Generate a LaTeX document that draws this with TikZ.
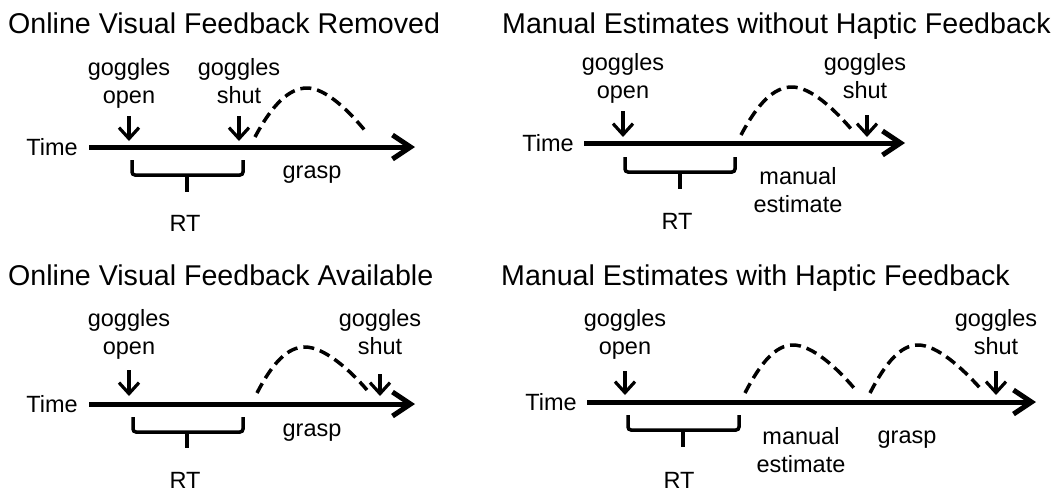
\documentclass[tikz,border=0pt]{standalone}
\usepackage{fontspec}
\setmainfont{Liberation Sans}
\usetikzlibrary{arrows.meta}
\tikzset{>=latex}
\tikzset{
  paneltitle/.style={anchor=base west,inner sep=0pt,font=\fontsize{28.6}{32}\selectfont},
  lbl/.style={inner sep=0pt,align=center,font=\fontsize{23.5}{28}\selectfont},
  timeline/.style={line width=5pt,-{Straight Barb[length=18pt,width=24pt]}},
  goggarrow/.style={line width=3.2pt,-{Straight Barb[length=11pt,width=20pt]}},
  reach/.style={line width=3.5pt,dash pattern=on 11pt off 6pt},
  rtbrace/.style={line width=3.5pt,rounded corners=3pt}
}

\begin{document}
\begin{tikzpicture}[x=1pt,y=-1pt]
  \useasboundingbox (0,0) rectangle (1061,491);

  % online visual feedback removed
  \node[paneltitle] (title1) at (8,33) {Online Visual Feedback Removed};
  \node[lbl,anchor=east] (time1) at (78,147) {Time};
  \coordinate (end1) at (415,147);
  \draw[timeline] ([xshift=11pt]time1.east) -- (end1);
  \coordinate (open1) at (129,147);
  \coordinate (shut1) at (239,147);
  \node[lbl,anchor=base] (gopen1) at (129,103) {goggles\\open};
  \node[lbl,anchor=base] (gshut1) at (239,103) {goggles\\shut};
  \draw[goggarrow] ([yshift=31pt]open1) -- ([yshift=6pt]open1);
  \draw[goggarrow] ([yshift=31pt]shut1) -- ([yshift=6pt]shut1);
  \draw[reach] (255,137) .. controls (272,105) and (289,88) .. (307,88)
               .. controls (326,88) and (350,112) .. (367,133);
  \draw[rtbrace] (132,160) -- ++(0,15) -| (243,160);
  \draw[rtbrace] (187,175) -- (187,192);
  \node[lbl,anchor=base] (rt1) at (185,231) {RT};
  \node[lbl,anchor=base] (grasp1) at (312,178) {grasp};

  % manual estimates without haptic feedback
  \node[paneltitle] (title2) at (502,33) {Manual Estimates without Haptic Feedback};
  \node[lbl,anchor=east] (time2) at (574,143) {Time};
  \coordinate (end2) at (905,143);
  \draw[timeline] ([xshift=10pt]time2.east) -- (end2);
  \coordinate (open2) at (623,143);
  \coordinate (shut2) at (867,143);
  \node[lbl,anchor=base] (gopen2) at (623,98) {goggles\\open};
  \node[lbl,anchor=base] (gshut2) at (865,98) {goggles\\shut};
  \draw[goggarrow] ([yshift=32pt]open2) -- ([yshift=6pt]open2);
  \draw[goggarrow] ([yshift=28pt]shut2) -- ([yshift=6pt]shut2);
  \draw[reach] (741,135) .. controls (758,103) and (774,87) .. (792,87)
               .. controls (811,87) and (835,110) .. (852,130);
  \draw[rtbrace] (625,157) -- ++(0,15) -| (735,157);
  \draw[rtbrace] (680,172) -- (680,189);
  \node[lbl,anchor=base] (rt2) at (677,229) {RT};
  \node[lbl,anchor=base] (manual2) at (798,212) {manual\\estimate};

  % online visual feedback available
  \node[paneltitle] (title3) at (8,285) {Online Visual Feedback Available};
  \node[lbl,anchor=east] (time3) at (78,404) {Time};
  \coordinate (end3) at (415,404);
  \draw[timeline] ([xshift=11pt]time3.east) -- (end3);
  \coordinate (open3) at (129,404);
  \coordinate (shut3) at (380,404);
  \node[lbl,anchor=base] (gopen3) at (129,354) {goggles\\open};
  \node[lbl,anchor=base] (gshut3) at (380,354) {goggles\\shut};
  \draw[goggarrow] ([yshift=34pt]open3) -- ([yshift=8pt]open3);
  \draw[goggarrow] ([yshift=30pt]shut3) -- ([yshift=8pt]shut3);
  \draw[reach] (257,393) .. controls (273,362) and (288,347) .. (305,347)
               .. controls (324,347) and (350,370) .. (367,390);
  \draw[rtbrace] (133,417) -- ++(0,15) -| (243,417);
  \draw[rtbrace] (187,432) -- (187,448);
  \node[lbl,anchor=base] (rt3) at (185,488) {RT};
  \node[lbl,anchor=base] (grasp3) at (312,436) {grasp};

  % manual estimates with haptic feedback
  \node[paneltitle] (title4) at (501,285) {Manual Estimates with Haptic Feedback};
  \node[lbl,anchor=east] (time4) at (577,402) {Time};
  \coordinate (end4) at (1036,402);
  \draw[timeline] ([xshift=10pt]time4.east) -- (end4);
  \coordinate (open4) at (625,402);
  \coordinate (shut4) at (996,402);
  \node[lbl,anchor=base] (gopen4) at (625,354) {goggles\\open};
  \node[lbl,anchor=base] (gshut4) at (996,354) {goggles\\shut};
  \draw[goggarrow] ([yshift=31pt]open4) -- ([yshift=7pt]open4);
  \draw[goggarrow] ([yshift=31pt]shut4) -- ([yshift=7pt]shut4);
  \draw[reach] (745,393) .. controls (761,362) and (776,345) .. (793,345)
               .. controls (812,345) and (837,368) .. (854,388);
  \draw[reach] (870,393) .. controls (886,362) and (901,345) .. (918,345)
               .. controls (937,345) and (962,368) .. (980,388);
  \draw[rtbrace] (628,415) -- ++(0,15) -| (739,415);
  \draw[rtbrace] (683,430) -- (683,447);
  \node[lbl,anchor=base] (rt4) at (679,488) {RT};
  \node[lbl,anchor=base] (manual4) at (801,472) {manual\\estimate};
  \node[lbl,anchor=base] (grasp4) at (907,443) {grasp};
\end{tikzpicture}
\end{document}
